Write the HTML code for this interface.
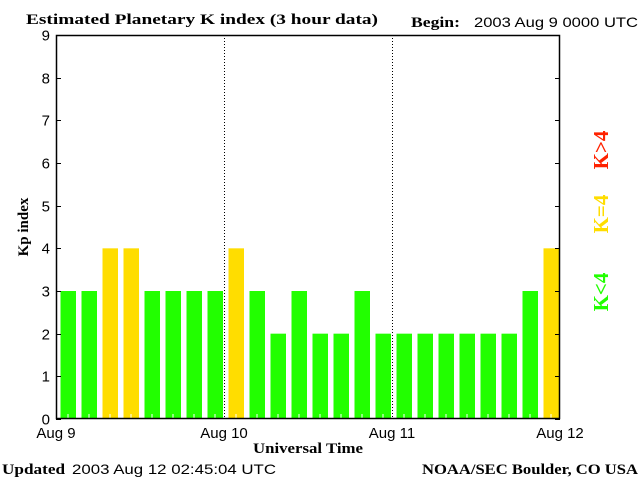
<!DOCTYPE html>
<html><head><meta charset="utf-8"><style>
body{margin:0;background:#fff;}
svg{display:block;}
.s{font-family:"Liberation Sans",sans-serif;font-size:14px;}
.b{font-family:"Liberation Serif",serif;font-weight:bold;font-size:15px;}
</style></head><body>
<svg id="c" width="640" height="480" xmlns="http://www.w3.org/2000/svg">
<text class="b" x="26" y="24" textLength="352" lengthAdjust="spacingAndGlyphs">Estimated Planetary K index (3 hour data)</text>
<text class="b" x="411" y="27" textLength="49" lengthAdjust="spacingAndGlyphs">Begin:</text>
<text class="s" x="474" y="27" textLength="164" lengthAdjust="spacingAndGlyphs">2003 Aug 9 0000 UTC</text>
<text class="b" x="2" y="474" textLength="63" lengthAdjust="spacingAndGlyphs">Updated</text>
<text class="s" x="72" y="474" textLength="204" lengthAdjust="spacingAndGlyphs">2003 Aug 12 02:45:04 UTC</text>
<text class="b" x="422" y="474" textLength="216" lengthAdjust="spacingAndGlyphs">NOAA/SEC Boulder, CO USA</text>
<text class="b" x="253" y="453" textLength="110" lengthAdjust="spacingAndGlyphs">Universal Time</text>
<text class="b" transform="translate(28,227) rotate(-90)" text-anchor="middle">Kp index</text>
<g id="bars"></g>
<g id="axes"></g>
<text class="b" style="font-size:21px" fill="#ff2200" transform="translate(608,150) rotate(-90)" text-anchor="middle">K&gt;4</text>
<text class="b" style="font-size:21px" fill="#ffdd00" transform="translate(608,214) rotate(-90)" text-anchor="middle">K=4</text>
<text class="b" style="font-size:21px" fill="#22ff00" transform="translate(608,292) rotate(-90)" text-anchor="middle">K&lt;4</text>
</svg>
<script>
const kpValues=[3,3,4,4,3,3,3,3,4,3,2,3,2,2,3,2,2,2,2,2,2,2,3,4];
const yTicks=[0,1,2,3,4,5,6,7,8,9];
const dayLabels=["Aug 9","Aug 10","Aug 11","Aug 12"];
const L=56,R=560,T=35,B=419,N=24;
const NS="http://www.w3.org/2000/svg";
const slot=(R-L)/N;
function xs(i){return L+i*slot;}
function ys(v){return B-(v/9)*(B-T);}
function mk(tag,attrs,parent){const e=document.createElementNS(NS,tag);for(const k in attrs)e.setAttribute(k,attrs[k]);parent.appendChild(e);return e;}
const bars=document.getElementById('bars'),axes=document.getElementById('axes');
kpValues.forEach((v,i)=>{
  const col=v>4?'#ff2200':(v==4?'#ffdd00':'#22ff00');
  const r=mk('rect',{x:xs(i)+4.5,y:ys(v),width:15.5,height:B-ys(v),fill:col},bars);
  
  
  const t=mk('line',{x1:xs(i)+12,x2:xs(i)+12,y1:B-5,y2:B,stroke:'#fff'},bars);
  
  
});
[1,2].forEach(d=>{
  const x=Math.round(L+d*(R-L)/3)+0.5;
  const l=mk('line',{x1:x,x2:x,y1:T,y2:B,stroke:'#000','stroke-dasharray':'1,2'},axes);
  
  
});
const box=mk('rect',{x:L+0.5,y:T+0.5,width:R-L-1,height:B-T-1,fill:'none',stroke:'#000','stroke-width':1.5},axes);


yTicks.forEach(v=>{
  const y=Math.round(ys(v))+0.5;
  mk('line',{x1:L,x2:L+5,y1:y,y2:y,stroke:'#000'},axes);
  mk('line',{x1:R-5,x2:R,y1:y,y2:y,stroke:'#000'},axes);
  const t=mk('text',{x:L-6,y:y+5,'text-anchor':'end','class':'s','style':'font-size:15px'},axes);
  t.textContent=v;
  
  
});
dayLabels.forEach((s,d)=>{
  const t=mk('text',{x:L+d*(R-L)/3,y:438,'text-anchor':'middle','class':'s','style':'font-size:15px'},axes);
  t.textContent=s;
  
  
});
</script>
</body></html>
